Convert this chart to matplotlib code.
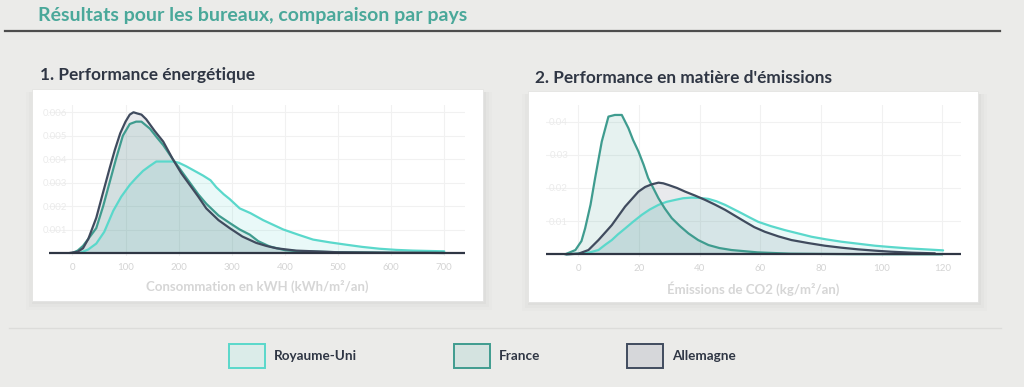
"""
Résultats pour les bureaux : densités de consommation et d'émissions par pays
"""

import matplotlib
matplotlib.use('Agg')
import matplotlib.pyplot as plt
from matplotlib.patches import Rectangle
from matplotlib.lines import Line2D

plt.rcParams['font.family'] = ['Lato', 'DejaVu Sans']

W, H = 1024, 387

countries = ['Royaume-Uni', 'France', 'Allemagne']
line_colors = {'Royaume-Uni': '#5ad8cb', 'France': '#3f9c8f', 'Allemagne': '#404b5e'}
fill_colors = {'Royaume-Uni': '#5ad8cb', 'France': '#3f9c8f', 'Allemagne': '#5a6478'}
legend_fill = {'Royaume-Uni': '#dbece9', 'France': '#d4e3e0', 'Allemagne': '#d6d7da'}

# 1. consommation (kWh/m2/an) -> densité
energy_uk_x = [14, 30, 45, 60, 77, 92, 108, 120, 133, 145, 158, 170, 189, 200, 214, 230, 246,
               260, 271, 285, 296, 315, 335, 359, 378, 397, 425, 453, 485, 516, 545, 578, 610,
               641, 700]
energy_uk_y = [0, 0.00015, 0.0004, 0.0009, 0.0018, 0.0024, 0.0029, 0.0032, 0.0035, 0.0037,
               0.0039, 0.0039, 0.0039, 0.00385, 0.0037, 0.0035, 0.0033, 0.0031, 0.0028, 0.0025,
               0.0023, 0.0019, 0.0017, 0.0014, 0.0012, 0.001, 0.00078, 0.00057, 0.00045,
               0.00035, 0.00026, 0.00018, 0.00013, 0.0001, 0.00007]
energy_fr_x = [0, 10, 20, 30, 45, 58, 70, 82, 95, 108, 120, 130, 146, 160, 171, 189, 205, 221,
               237, 252, 275, 296, 315, 334, 350, 371, 400, 421, 500, 600, 700]
energy_fr_y = [0, 0.0001, 0.0003, 0.0006, 0.00106, 0.002, 0.003, 0.004, 0.005, 0.0055, 0.0056,
               0.0056, 0.0053, 0.0049, 0.0046, 0.004, 0.0035, 0.003, 0.0025, 0.0021, 0.0016,
               0.00128, 0.001, 0.00078, 0.0005, 0.00028, 0.00012, 0.00008, 0.00003, 0.00001, 0]
energy_de_x = [-5, 10, 20, 30, 45, 58, 70, 80, 90, 100, 108, 115, 122, 130, 139, 155, 171, 189,
               205, 221, 237, 252, 275, 296, 320, 346, 365, 384, 421, 500, 600, 700]
energy_de_y = [0, 0.00005, 0.0002, 0.0006, 0.0015, 0.0026, 0.0036, 0.0044, 0.0051, 0.0056,
               0.0059, 0.006, 0.00595, 0.0059, 0.0057, 0.0052, 0.00475, 0.004, 0.0034, 0.0029,
               0.0024, 0.0019, 0.0014, 0.00106, 0.0007, 0.00043, 0.0003, 0.0002, 0.0001,
               0.00003, 0.00001, 0]

# 2. émissions (kg CO2/m2/an) -> densité
co2_uk_x = [-4, 3.3, 6.6, 9, 11, 13, 15.4, 18, 20.9, 23.5, 26.4, 29, 31.9, 34.5, 37.4, 40, 42.9,
            45.5, 48.4, 51, 53.8, 56.5, 59.3, 63.5, 68.1, 72.5, 76.9, 81.8, 86.8, 92.3, 97.8,
            103, 108.8, 114.5, 120.3]
co2_uk_y = [0, 0.0005, 0.0013, 0.003, 0.0043, 0.006, 0.0078, 0.0098, 0.0119, 0.0135, 0.0149,
            0.0158, 0.0164, 0.0169, 0.0171, 0.017, 0.0167, 0.016, 0.0149, 0.0137, 0.0124, 0.0111,
            0.0098, 0.0085, 0.0073, 0.0063, 0.0053, 0.0045, 0.0038, 0.0032, 0.0026, 0.0022,
            0.0018, 0.0015, 0.0012]
co2_fr_x = [-4.4, -1, 1, 2.2, 4, 5.5, 7.7, 9.9, 12, 14.3, 16.5, 18, 19.8, 21.5, 23, 26.4, 28.5,
            30.8, 33.5, 36.3, 39.5, 42.9, 46.5, 50.5, 59, 70, 90, 120]
co2_fr_y = [0, 0.0013, 0.004, 0.0078, 0.015, 0.023, 0.034, 0.0415, 0.042, 0.042, 0.038, 0.0345,
            0.031, 0.027, 0.023, 0.0169, 0.0138, 0.0109, 0.0085, 0.0063, 0.0043, 0.0028, 0.0019,
            0.0013, 0.0006, 0.0002, 0.00005, 0]
co2_de_x = [-4, 0, 3.3, 6.6, 11, 15.4, 19.8, 22, 24.2, 26.4, 28, 29.7, 32.5, 35.2, 38.5, 41.8,
            45, 48.4, 51.7, 55, 58, 61.5, 66, 70.3, 75.8, 81.3, 86.8, 92.3, 98, 103, 110, 117.6]
co2_de_y = [0, 0.0002, 0.0013, 0.0043, 0.0088, 0.0144, 0.0189, 0.0203, 0.0211, 0.0216, 0.0214,
            0.0209, 0.02, 0.0189, 0.0177, 0.0164, 0.015, 0.0134, 0.0116, 0.0098, 0.0082, 0.0068,
            0.0054, 0.0043, 0.0034, 0.0026, 0.002, 0.0015, 0.0011, 0.0008, 0.0005, 0.0003]

energy_xticks = [0, 100, 200, 300, 400, 500, 600, 700]
energy_yticks = [0.001, 0.002, 0.003, 0.004, 0.005, 0.006]
co2_xticks = [0, 20, 40, 60, 80, 100, 120]
co2_yticks = [0.01, 0.02, 0.03, 0.04]


def px_rect(x0, y0, x1, y1):
    """Pixel box (top-left origin) -> figure fraction [left, bottom, width, height]."""
    return [x0 / W, 1 - y1 / H, (x1 - x0) / W, (y1 - y0) / H]


def panel_box(fig, x0, y0, x1, y1):
    # soft shadow then white card
    for d, a in [(1, 0.035), (3, 0.025), (6, 0.015), (9, 0.01)]:
        l, b, w, h = px_rect(x0 - d + 3, y0 + 3, x1 + d, y1 + d)
        fig.patches.append(Rectangle((l, b), w, h, transform=fig.transFigure,
                                     facecolor='#000000', alpha=a, edgecolor='none', zorder=0))
    l, b, w, h = px_rect(x0, y0, x1, y1)
    fig.patches.append(Rectangle((l, b), w, h, transform=fig.transFigure,
                                 facecolor='white', edgecolor='#e4e4e2', lw=0.6, zorder=1))


def density_panel(ax, series, xlim, ylim, xticks, yticks, ylabels, xlabel, ypad):
    ax.set_facecolor('none')
    ax.set_zorder(5)
    for name, xs, ys in series:
        ax.fill_between(xs, ys, 0, color=fill_colors[name], alpha=0.13, lw=0)
        ax.plot(xs, ys, color=line_colors[name], lw=1.6, solid_joinstyle='round',
                solid_capstyle='round')
    ax.axhline(0, color='#2f3644', lw=1.6, zorder=5)
    ax.set_xlim(*xlim)
    ax.set_ylim(*ylim)
    ax.set_xticks(xticks)
    ax.set_yticks(yticks)
    ax.set_yticklabels(ylabels)
    ax.grid(True, color='#f1f1f1', lw=0.8)
    ax.set_axisbelow(True)
    for s in ax.spines.values():
        s.set_visible(False)
    ax.tick_params(axis='x', length=0, pad=5, labelsize=7, labelcolor='#d4d4d4')
    ax.tick_params(axis='y', length=0, pad=ypad, labelsize=7, labelcolor='#ebebeb')
    ax.set_xlabel(xlabel, fontsize=9.5, fontweight='bold', color='#d6d6d6', labelpad=6)


fig = plt.figure(figsize=(W / 100, H / 100), dpi=100)
fig.patch.set_facecolor('#ebebe9')

fig.text(38 / W, 1 - 15 / H, 'Résultats pour les bureaux, comparaison par pays',
         fontsize=14, color='#4aa89a', fontweight='bold', va='center', ha='left')
fig.add_artist(Line2D([5 / W, 1000 / W], [1 - 31 / H] * 2, color='#4d4d4d', lw=1.6))
fig.add_artist(Line2D([9 / W, 1001 / W], [1 - 328 / H] * 2, color='#dcdcda', lw=1.0))

panel_box(fig, 32, 89, 483, 301)
panel_box(fig, 528, 91, 978, 302)

fig.text(40 / W, 1 - 75 / H, '1. Performance énergétique', fontsize=12.4,
         fontweight='bold', color='#2f3644', va='center')
fig.text(535 / W, 1 - 78 / H, "2. Performance en matière d'émissions", fontsize=12.4,
         fontweight='bold', color='#2f3644', va='center')

ax1 = fig.add_axes(px_rect(49, 105, 465, 256))
density_panel(ax1,
              [('Royaume-Uni', energy_uk_x, energy_uk_y),
               ('France', energy_fr_x, energy_fr_y),
               ('Allemagne', energy_de_x, energy_de_y)],
              (-44, 739), (-0.00013, 0.00631), energy_xticks, energy_yticks,
              [f'{v:.3f}' for v in energy_yticks], 'Consommation en kWH (kWh/m²/an)', -13)

ax2 = fig.add_axes(px_rect(546, 105, 961, 257))
density_panel(ax2,
              [('Royaume-Uni', co2_uk_x, co2_uk_y),
               ('France', co2_fr_x, co2_fr_y),
               ('Allemagne', co2_de_x, co2_de_y)],
              (-10.7, 126.2), (-0.0008, 0.045), co2_xticks, co2_yticks,
              [f'{v:.2f}' for v in co2_yticks], 'Émissions de CO2 (kg/m²/an)', -16)

# legend
leg_x = [229, 454, 627]
for name, x0 in zip(countries, leg_x):
    l, b, w, h = px_rect(x0, 344, x0 + 36, 368)
    fig.patches.append(Rectangle((l, b), w, h, transform=fig.transFigure,
                                 facecolor=legend_fill[name], edgecolor=line_colors[name],
                                 lw=1.4, zorder=3))
    fig.text((x0 + 45) / W, 1 - 356 / H, name, fontsize=9.7, fontweight='bold',
             color='#2f3644', va='center')

fig.savefig('out.png', dpi=100, facecolor=fig.get_facecolor())
